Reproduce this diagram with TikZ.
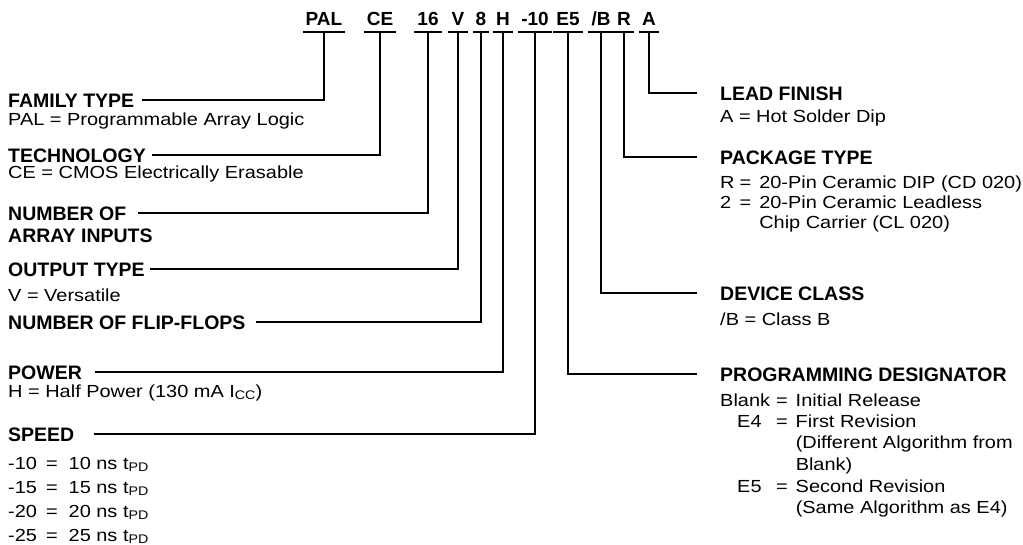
\documentclass[tikz,border=0pt]{standalone}
\usepackage{fontspec}
\setmainfont{Liberation Sans}
\newfontfamily\bodyfont[FakeStretch=1.14]{Liberation Sans}
\newcommand\lowcaps[1]{\raisebox{-2.5pt}{\fontsize{12.5}{12.5}\selectfont #1}}
\begin{document}
\begin{tikzpicture}[x=1pt, y=-1pt,
  code/.style={font=\fontsize{19}{19}\selectfont\bfseries, anchor=base, inner xsep=3pt, inner ysep=6pt, text depth=0pt},
  head/.style={font=\fontsize{19.5}{19.5}\selectfont\bfseries, anchor=west, inner sep=0pt, text height=15pt, text depth=0pt},
  body/.style={font=\bodyfont\fontsize{17.5}{22}\selectfont, anchor=base west, inner sep=0pt},
  wire/.style={line width=1.8pt}]
\useasboundingbox (0,0) rectangle (1023,545);
% part number
\foreach \n/\t/\x in {cPAL/PAL/324, cCE/CE/380, c16/16/428, cV/V/458, c8/8/481, cH/H/503, c10/-10/535, cE5/E5/568, cB/{/B}/601, cR/R/624, cA/A/649}{
  \node[code] (\n) at (\x,26){\t};
  \draw[wire] (\n.south west) -- (\n.south east);
}
% left column
\node[head] (famH) at (8,100){FAMILY TYPE};
\node[body] (famT) at (8,126){PAL = Programmable Array Logic};
\node[head] (techH) at (8,155){TECHNOLOGY};
\node[body] (techT) at (8,179){CE = CMOS Electrically Erasable};
\node[head] (numH) at (8,213){NUMBER OF};
\node[body, font=\fontsize{19.5}{19.5}\selectfont\bfseries] (numT) at (8,243){ARRAY INPUTS};
\node[head] (outH) at (8,269){OUTPUT TYPE};
\node[body] (outT) at (8,302){V = Versatile};
\node[head] (ffH) at (8,322){NUMBER OF FLIP-FLOPS};
\node[head] (powH) at (8,372){POWER};
\node[body] (powT) at (8,397){H = Half Power (130 mA I\lowcaps{CC})};
\node[head] (spdH) at (8,434){SPEED};
\node[body, font=\bodyfont\fontsize{17.5}{24}\selectfont] (spdT) at (8,469){\begin{tabular}[t]{@{}l@{\hspace{9pt}}c@{\hspace{11pt}}l@{}}
-10 & = & 10 ns t\lowcaps{PD}\\
-15 & = & 15 ns t\lowcaps{PD}\\
-20 & = & 20 ns t\lowcaps{PD}\\
-25 & = & 25 ns t\lowcaps{PD}
\end{tabular}};
% right column
\node[head] (leadH) at (720,93){LEAD FINISH};
\node[body] (leadT) at (720,123){A = Hot Solder Dip};
\node[head] (pkgH) at (720,157){PACKAGE TYPE};
\node[body, font=\bodyfont\fontsize{17.5}{20}\selectfont] (pkgT) at (720,189){\begin{tabular}[t]{@{}l@{\hspace{5pt}}c@{\hspace{8pt}}l@{}}
R & = & 20-Pin Ceramic DIP (CD 020)\\
2 & = & 20-Pin Ceramic Leadless\\
  &   & Chip Carrier (CL 020)
\end{tabular}};
\node[head] (devH) at (720,293){DEVICE CLASS};
\node[body] (devT) at (720,326){/B = Class B};
\node[head] (progH) at (720,374){PROGRAMMING DESIGNATOR};
\node[body, font=\bodyfont\fontsize{17.5}{21.5}\selectfont] (progT) at (720,406){\begin{tabular}[t]{@{}l@{\hspace{6pt}}c@{\hspace{8pt}}l@{}}
Blank & = & Initial Release\\
\hspace{17pt}E4 & = & First Revision\\
 & & (Different Algorithm from\\
 & & Blank)\\
\hspace{17pt}E5 & = & Second Revision\\
 & & (Same Algorithm as E4)
\end{tabular}};
% connectors
\draw[wire] ([xshift=8pt]famH.east) -| (cPAL.south);
\draw[wire] ([xshift=6pt]techH.east) -| (cCE.south);
\draw[wire] ([xshift=12pt]numH.east) -| (c16.south);
\draw[wire] ([xshift=5pt]outH.east) -| (cV.south);
\draw[wire] ([xshift=10pt]ffH.east) -| (c8.south);
\draw[wire] ([xshift=13pt]powH.east) -| (cH.south);
\draw[wire] ([xshift=19pt]spdH.east) -| (c10.south);
\draw[wire] (cA.south) |- ([xshift=-23pt]leadH.west);
\draw[wire] (cR.south) |- ([xshift=-23pt]pkgH.west);
\draw[wire] (cB.south) |- ([xshift=-23pt]devH.west);
\draw[wire] (cE5.south) |- ([xshift=-23pt]progH.west);
\end{tikzpicture}
\end{document}
